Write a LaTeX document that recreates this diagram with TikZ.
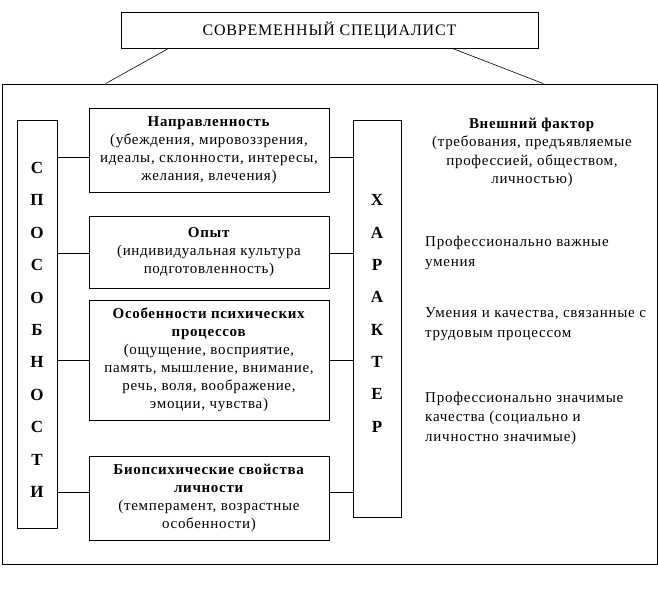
\documentclass[tikz,border=0pt]{standalone}
\usepackage{fontspec}
\setmainfont{Liberation Serif}
\usetikzlibrary{positioning}

\begin{document}
\begin{tikzpicture}[x=1pt,y=-1pt,
  frm/.style={draw,line width=0.8pt,inner sep=0pt},
  box/.style={frm,minimum width=240pt,align=center,font=\fontsize{15}{18}\selectfont\addfontfeature{LetterSpace=4.5}},
  letter/.style={inner sep=0pt,font=\fontsize{17}{17}\selectfont\bfseries},
  note/.style={inner sep=0pt,anchor=west,align=left,font=\fontsize{15}{19.5}\selectfont\addfontfeature{LetterSpace=5}},
  link/.style={line width=0.8pt}]
  \useasboundingbox (0,0) rectangle (658,589);
  % top and outer frame
  \node[frm,minimum width=417pt,minimum height=36pt,font=\fontsize{16}{18}\selectfont\addfontfeature{LetterSpace=5}] (spec) at (329.5,30) {СОВРЕМЕННЫЙ СПЕЦИАЛИСТ};
  \node[frm,minimum width=655pt,minimum height=480pt] (frame) at (329.5,324) {};
  \draw[line width=0.6pt] ([xshift=48pt]spec.south west) -- ([xshift=104pt]frame.north west);
  \draw[line width=0.6pt] ([xshift=-86pt]spec.south east) -- ([xshift=-114pt]frame.north east);
  % vertical bars
  \node[frm,minimum width=40pt,minimum height=408pt] (abil) at (37,324) {};
  \node[frm,minimum width=48pt,minimum height=397pt] (char) at (377,318.5) {};
  \foreach \l [count=\i] in {С,П,О,С,О,Б,Н,О,С,Т,И}
    \node[letter] (s\i) at (37,{168+(\i-1)*32.4}) {\l};
  \foreach \l [count=\i] in {Х,А,Р,А,К,Т,Е,Р}
    \node[letter] (h\i) at (377,{200+(\i-1)*32.4}) {\l};
  % middle boxes
  \node[box,minimum height=84pt] (n1) at (209,150) {\textbf{Направленность}\\(убеждения, мировоззрения,\\идеалы, склонности, интересы,\\желания, влечения)};
  \node[box,minimum height=72pt] (n2) at (209,252) {\textbf{Опыт}\\(индивидуальная культура\\подготовленность)};
  \node[box,minimum height=120pt] (n3) at (209,360) {\textbf{Особенности психических}\\\textbf{процессов}\\(ощущение, восприятие,\\память, мышление, внимание,\\речь, воля, воображение,\\эмоции, чувства)};
  \node[box,minimum height=84pt] (n4) at (209,498) {\textbf{Биопсихические свойства}\\\textbf{личности}\\(темперамент, возрастные\\особенности)};
  \foreach \b/\dy in {n1/-7,n2/-1,n3/0,n4/6} {
    \coordinate (\b l) at ([yshift=\dy pt]\b.west);
    \coordinate (\b r) at ([yshift=\dy pt]\b.east);
    \draw[link] (abil.east |- \b l) -- (\b l);
    \draw[link] (\b r) -- (char.west |- \b r);
  }
  % right column
  \node[inner sep=0pt,align=center,font=\fontsize{15}{18.5}\selectfont\addfontfeature{LetterSpace=4.5}] (ext) at (532,152.5) {\textbf{Внешний фактор}\\(требования, предъявляемые\\профессией, обществом,\\личностью)};
  \node[note] (q1) at (425,253) {Профессионально важные\\умения};
  \node[note] (q2) at (425,324) {Умения и качества, связанные с\\трудовым процессом};
  \node[note] (q3) at (425,418) {Профессионально значимые\\качества (социально и\\личностно значимые)};
\end{tikzpicture}
\end{document}
